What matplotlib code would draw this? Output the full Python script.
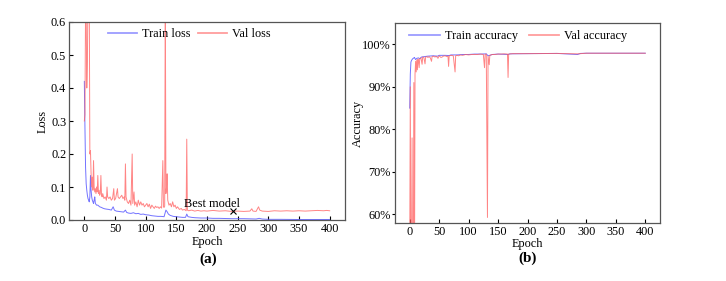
import matplotlib
matplotlib.use("Agg")
import matplotlib.pyplot as plt
from matplotlib.ticker import FuncFormatter

plt.rcParams['font.family'] = ['Liberation Serif', 'DejaVu Serif']
plt.rcParams['mathtext.fontset'] = 'stix'

# ---------------- data ----------------
train_loss_epoch = [0, 1, 2, 3, 4, 5, 6, 7, 8, 9, 10, 11, 12, 13, 14, 15, 16, 17, 18, 20, 22, 25, 28, 30,
                    33, 36, 40, 44, 47, 49, 52, 56, 60, 64, 67, 69, 72, 76, 80, 84, 88, 92, 96, 100, 105,
                    110, 115, 120, 125, 130, 133, 135, 137, 140, 145, 150, 155, 160, 165, 167, 169, 175,
                    180, 190, 200, 210, 220, 240, 260, 280, 285, 290, 300, 320, 350, 400]
train_loss = [0.42, 0.28, 0.16, 0.11, 0.09, 0.075, 0.065, 0.06, 0.055, 0.07, 0.135, 0.09, 0.07, 0.06, 0.055,
              0.05, 0.06, 0.07, 0.05, 0.045, 0.045, 0.04, 0.038, 0.036, 0.034, 0.033, 0.032, 0.03, 0.04,
              0.03, 0.027, 0.026, 0.025, 0.024, 0.03, 0.023, 0.021, 0.02, 0.022, 0.019, 0.02, 0.017, 0.018,
              0.016, 0.015, 0.013, 0.012, 0.011, 0.011, 0.01, 0.03, 0.025, 0.018, 0.014, 0.011, 0.01, 0.009,
              0.008, 0.008, 0.018, 0.01, 0.008, 0.007, 0.006, 0.006, 0.005, 0.005, 0.004, 0.004, 0.003,
              0.005, 0.003, 0.002, 0.002, 0.0015, 0.0015]

val_loss_epoch = [0, 1, 2, 3, 4, 5, 6, 7, 8, 9, 10, 11, 12, 13, 14, 15, 16, 17, 18, 19, 20, 21, 22, 23, 24,
                  25, 26, 27, 28, 29, 30, 32, 34, 36, 37, 38, 40, 42, 44, 46, 48, 49, 51, 53, 54, 55, 57,
                  59, 61, 63, 65, 66, 67, 68, 70, 72, 74, 76, 78, 79, 81, 82, 84, 86, 88, 90, 92, 94, 96,
                  98, 100, 102, 104, 106, 108, 110, 112, 114, 116, 118, 120, 122, 124, 126, 128, 129, 130,
                  131, 132, 133, 134, 135, 136, 138, 140, 142, 144, 146, 148, 150, 152, 155, 158, 160, 163,
                  166, 167, 168, 170, 175, 180, 185, 190, 195, 200, 210, 220, 230, 240, 250, 260, 270, 273,
                  275, 280, 284, 286, 290, 300, 310, 320, 330, 340, 350, 360, 370, 380, 390, 395, 400]
val_loss = [0.30, 0.32, 0.65, 0.62, 0.40, 0.48, 0.70, 0.65, 0.70, 0.20, 0.21, 0.14, 0.10, 0.13, 0.09, 0.18,
            0.10, 0.085, 0.095, 0.08, 0.10, 0.085, 0.135, 0.08, 0.09, 0.075, 0.08, 0.135, 0.075, 0.07, 0.08,
            0.065, 0.07, 0.06, 0.10, 0.07, 0.065, 0.07, 0.06, 0.065, 0.095, 0.06, 0.065, 0.085, 0.095, 0.07,
            0.065, 0.07, 0.075, 0.065, 0.07, 0.06, 0.17, 0.07, 0.055, 0.05, 0.06, 0.045, 0.20, 0.05, 0.085,
            0.045, 0.055, 0.04, 0.06, 0.045, 0.055, 0.045, 0.05, 0.04, 0.045, 0.05, 0.04, 0.048, 0.035,
            0.045, 0.04, 0.035, 0.042, 0.038, 0.04, 0.035, 0.04, 0.036, 0.18, 0.04, 0.038, 0.042, 0.70,
            0.08, 0.10, 0.14, 0.06, 0.045, 0.05, 0.04, 0.055, 0.04, 0.045, 0.035, 0.04, 0.032, 0.035, 0.03,
            0.032, 0.028, 0.245, 0.03, 0.028, 0.03, 0.027, 0.029, 0.027, 0.028, 0.027, 0.029, 0.027, 0.028,
            0.026, 0.027, 0.026, 0.027, 0.034, 0.027, 0.026, 0.04, 0.03, 0.027, 0.026, 0.028, 0.027, 0.028,
            0.027, 0.028, 0.027, 0.028, 0.029, 0.028, 0.029, 0.028]

best_epoch = 242
best_loss = 0.027

train_acc_epoch = [0, 1, 2, 3, 4, 5, 7, 8, 10, 12, 15, 17, 20, 25, 30, 40, 47, 50, 60, 67, 70, 80, 90, 100,
                   110, 120, 130, 133, 136, 140, 150, 167, 170, 200, 250, 285, 290, 300, 350, 400]
train_acc = [85, 93, 95.8, 96.2, 96.4, 96.6, 96.8, 96.9, 96.4, 96.7, 96.8, 96.6, 97.0, 97.1, 97.2, 97.3,
             97.2, 97.4, 97.4, 97.35, 97.5, 97.5, 97.6, 97.6, 97.7, 97.7, 97.75, 97.3, 97.4, 97.6, 97.7,
             97.6, 97.75, 97.8, 97.85, 97.6, 97.85, 97.9, 97.9, 97.9]

val_acc_epoch = [0, 1, 2, 3, 4, 5, 6, 7, 8, 9, 10, 11, 12, 13, 14, 15, 16, 17, 19, 21, 22, 24, 26, 27, 29,
                 31, 33, 35, 37, 38, 40, 43, 45, 48, 50, 53, 55, 57, 60, 63, 65, 66, 67, 70, 74, 77, 78, 80,
                 83, 86, 90, 95, 100, 105, 110, 115, 120, 125, 127, 128, 130, 132, 133, 135, 136, 138, 140,
                 145, 150, 155, 160, 166, 167, 168, 175, 200, 250, 285, 300, 400]
val_acc = [50, 90, 40, 40, 78, 40, 40, 91, 40, 93, 96, 93.5, 96.3, 94, 96.5, 96, 94.5, 96.6, 96.8, 95.3, 97,
           96.9, 95.4, 97, 97.1, 96.9, 97.1, 96.8, 96, 97.1, 97.2, 97, 97.2, 96.7, 97.3, 96.9, 97, 97.2,
           97.3, 97.1, 97.2, 94.8, 97.3, 97.4, 97.3, 93.5, 97.3, 97.4, 97.3, 97.5, 97.4, 97.6, 97.5, 97.6,
           97.6, 97.6, 97.7, 97.6, 94.5, 97.6, 97.7, 59.3, 97.2, 95.2, 97.4, 97.5, 97.6, 97.6, 97.7, 97.7,
           97.75, 97.7, 92.2, 97.7, 97.8, 97.8, 97.85, 97.75, 97.9, 97.9]

x_ticks = [0, 50, 100, 150, 200, 250, 300, 350, 400]
loss_ticks = [0.0, 0.1, 0.2, 0.3, 0.4, 0.5, 0.6]
acc_ticks = [60, 70, 80, 90, 100]

# ---------------- figure ----------------
W, H = 726, 281
fig = plt.figure(figsize=(W / 100, H / 100), dpi=100)

blue = '#5a5aff'
red = '#ff5c5c'
spine_c = '#555555'
fs = 8.8

def style(ax):
    for s in ax.spines.values():
        s.set_color(spine_c)
        s.set_linewidth(0.9)
    ax.tick_params(axis='both', labelsize=fs, colors='black', length=3, width=0.8, pad=2)
    ax.tick_params(axis='x', direction='in')

def fix_legend(leg):
    for ln in leg.get_lines():
        ln.set_linewidth(1.3)
        ln.set_alpha(0.6)

# left panel
ax1 = fig.add_axes([69 / W, 1 - 220 / H, 276 / W, 198 / H])
ax1.plot(train_loss_epoch, train_loss, color=blue, lw=0.7, alpha=0.85, label='Train loss')
ax1.plot(val_loss_epoch, val_loss, color=red, lw=0.7, alpha=0.75, label='Val loss')
ax1.plot([best_epoch], [best_loss], marker='x', color='black', ms=5, mew=0.8, ls='none')
ax1.text(208, 0.029, 'Best model', fontsize=fs, ha='center', va='bottom')
ax1.set_xlim(-25, 425)
ax1.set_ylim(0, 0.6)
ax1.set_xticks(x_ticks)
ax1.set_yticks(loss_ticks)
ax1.yaxis.set_major_formatter(FuncFormatter(lambda v, p: f'{v:.1f}'))
style(ax1)
ax1.tick_params(axis='y', direction='in')
ax1.set_xlabel('Epoch', fontsize=fs, labelpad=1)
ax1.set_ylabel('Loss', fontsize=fs)
ax1.yaxis.set_label_coords((49 - 69) / 276, 0.5)
leg1 = ax1.legend(loc='upper center', bbox_to_anchor=(0.435, 1.025), ncol=2, frameon=False, fontsize=fs,
                  handlelength=2.4, handletextpad=0.4, columnspacing=0.6)
fix_legend(leg1)
fig.text(208 / W, 1 - 259 / H, '(a)', fontsize=11, fontweight='bold', ha='center', va='center')

# right panel
ax2 = fig.add_axes([395 / W, 1 - 223 / H, 265 / W, 200 / H])
ax2.plot(train_acc_epoch, train_acc, color=blue, lw=0.7, alpha=0.85, label='Train accuracy')
ax2.plot(val_acc_epoch, val_acc, color=red, lw=0.7, alpha=0.75, label='Val accuracy')
ax2.set_xlim(-25, 425)
ax2.set_ylim(58, 105)
ax2.set_xticks(x_ticks)
ax2.set_yticks(acc_ticks)
ax2.yaxis.set_major_formatter(FuncFormatter(lambda v, p: f'{int(v)}%'))
style(ax2)
ax2.tick_params(axis='y', direction='out', length=2, pad=1)
ax2.set_xlabel('Epoch', fontsize=fs, labelpad=0)
ax2.set_ylabel('Accuracy', fontsize=fs)
ax2.yaxis.set_label_coords((364 - 395) / 265, 0.5)
leg2 = ax2.legend(loc='upper center', bbox_to_anchor=(0.465, 1.02), ncol=2, frameon=False, fontsize=fs,
                  handlelength=2.5, handletextpad=0.4, columnspacing=0.9)
fix_legend(leg2)
fig.text(528 / W, 1 - 258 / H, '(b)', fontsize=11, fontweight='bold', ha='center', va='center')

fig.savefig('out.png', dpi=100)
